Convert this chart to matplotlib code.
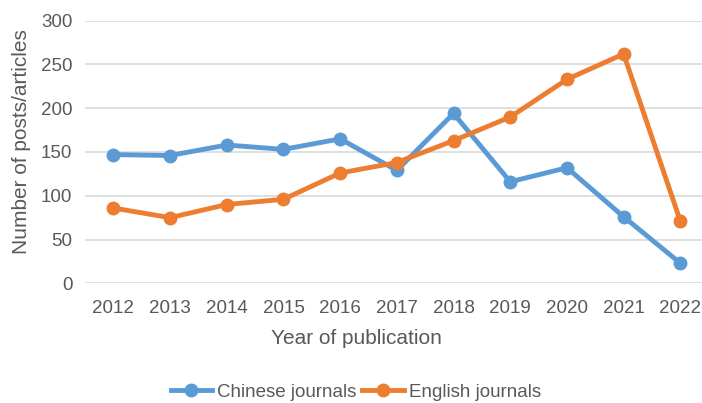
import matplotlib
matplotlib.use("Agg")
import matplotlib.pyplot as plt

years = [2012, 2013, 2014, 2015, 2016, 2017, 2018, 2019, 2020, 2021, 2022]
chinese = [147, 146, 158, 153, 165, 129, 194, 116, 132, 76, 23]
english = [86, 75, 90, 96, 126, 138, 163, 190, 233, 262, 71]

plt.rcParams['font.family'] = ['Liberation Sans', 'DejaVu Sans']
fig = plt.figure(figsize=(7.02, 4.03), dpi=100)
ax = fig.add_axes([85/702, 1-283.3/403, 617/702, (283.3-20.7)/403])

blue = '#5B9BD5'
orange = '#ED7D31'
ax.plot(years, chinese, color=blue, lw=3.5, marker='o', ms=9, label='Chinese journals', zorder=3)
ax.plot(years, english, color=orange, lw=3.5, marker='o', ms=9, label='English journals', zorder=3)

ax.set_ylim(0, 300)
ax.set_yticks(range(0, 301, 50))
ax.set_xlim(2011.5, 2011.5 + 617/56.7)
ax.set_xticks(years)
ax.set_xticklabels([str(y) for y in years])
ax.grid(axis='y', color='#d9d9d9', lw=1.2)
ax.set_axisbelow(True)
for s in ax.spines.values():
    s.set_visible(False)
ax.tick_params(length=0, labelsize=13.5, colors='#595959', pad=9)
ax.tick_params(axis='x', pad=12)
ax.set_xlabel('Year of publication', fontsize=15, color='#595959', labelpad=10)
ax.xaxis.set_label_coords((356-85)/617, -0.175)
ax.set_ylabel('Number of posts/articles', fontsize=15, color='#595959', labelpad=6)
ax.yaxis.label.set_va('center')
ax.yaxis.set_label_coords(-63/617, (283.3-142)/262.6)

leg = fig.legend(loc='center', bbox_to_anchor=(356/702, 1-392/403), ncol=2, frameon=False,
                 fontsize=13.5, handlelength=2.2, columnspacing=0.3, handletextpad=0.3)
for t in leg.get_texts():
    t.set_color('#595959')

fig.savefig('out.png', dpi=100)
